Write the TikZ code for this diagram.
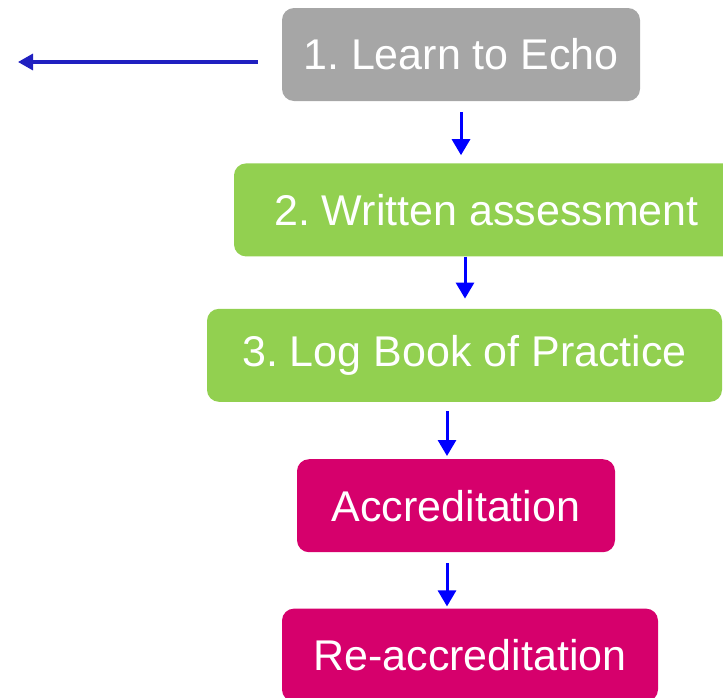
\documentclass[tikz,border=0pt]{standalone}
\usepackage{fontspec}
\setmainfont{Liberation Sans}
\usepackage{tikz}
\usetikzlibrary{positioning}
\usetikzlibrary{arrows.meta}
\frenchspacing
\definecolor{stepgray}{HTML}{A6A6A6}
\definecolor{stepgreen}{HTML}{92D050}
\definecolor{stepmagenta}{HTML}{D6006C}
\definecolor{backblue}{HTML}{2020C0}
\tikzset{stage/.style={rectangle,rounded corners=12pt,minimum height=93pt,inner sep=0pt,text=white,font=\fontsize{43}{49}\selectfont},
         flow/.style={draw=blue,line width=3pt,-{Triangle[width=18pt,length=16pt]}},
         back/.style={draw=backblue,line width=3.2pt,-{Triangle[width=16pt,length=15pt]}},}

\begin{document}
\begin{tikzpicture}[node distance=60pt]
    \useasboundingbox (0,0) rectangle (723pt,-697pt);
    \node[stage,fill=stepgray,minimum width=358pt] (echo) at (461pt,-54.5pt) {1. Learn to Echo};
    \node[stage,fill=stepgreen,minimum width=505pt] (written) [below = 62pt of echo,xshift=25.5pt] {2. Written assessment};
    \node[stage,fill=stepgreen,minimum width=515pt] (logbook) [below = 52pt of written,xshift=-22pt] {3. Log Book of Practice};
    \node[stage,fill=stepmagenta,minimum width=318pt] (accred) [below = 57pt of logbook,xshift=-8.5pt] {Accreditation};
    \node[stage,fill=stepmagenta,minimum width=376pt] (reaccred) [below = 56pt of accred,xshift=14pt] {Re-accreditation};
    \coordinate (exit) at (18pt,-62pt);

    \draw[back] ([xshift=-24pt]echo.west |- exit) -- (exit);
    \draw[flow] ([yshift=-11pt]echo.south) -- ([yshift=8pt]echo.south |- written.north);
    \draw[flow] ([xshift=-21.5pt]written.south) -- ([xshift=-21.5pt,yshift=10pt]written.south |- logbook.north);
    \draw[flow] ([xshift=-17.5pt,yshift=-9pt]logbook.south) -- ([xshift=-17.5pt,yshift=3pt]logbook.south |- accred.north);
    \draw[flow] ([xshift=-9pt,yshift=-11pt]accred.south) -- ([xshift=-9pt,yshift=2pt]accred.south |- reaccred.north);
\end{tikzpicture}
\end{document}
